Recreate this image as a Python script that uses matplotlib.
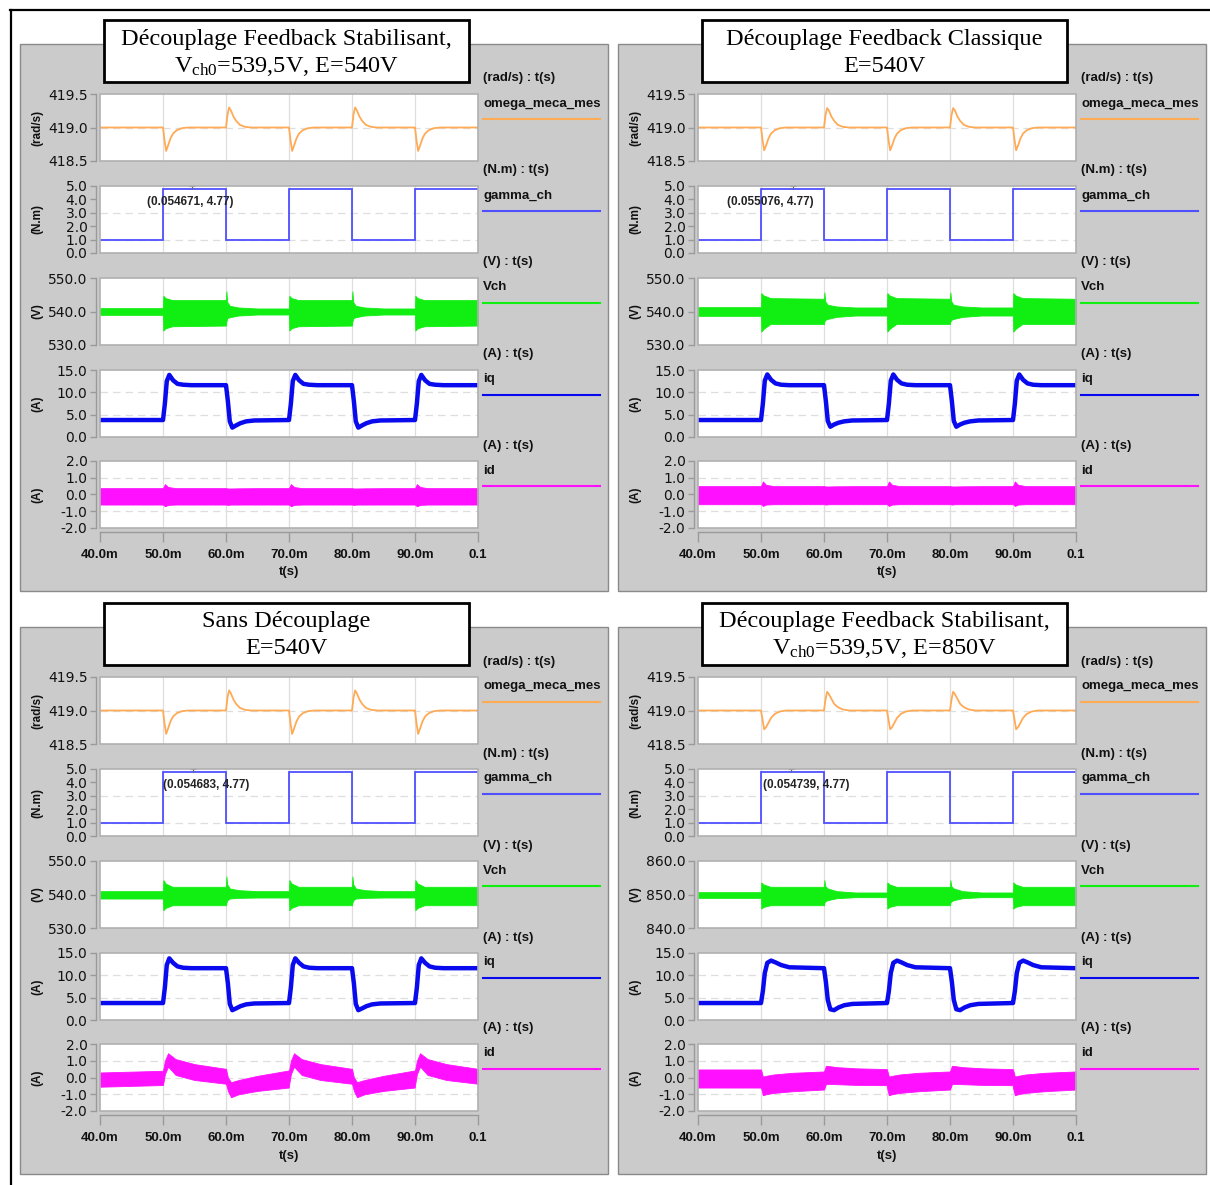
import numpy as np
import matplotlib
matplotlib.use("Agg")
import matplotlib.pyplot as plt
from matplotlib.patches import Rectangle
from matplotlib.lines import Line2D

# ---------------------------------------------------------------- data
T_START, T_END = 40.0, 100.0                 # ms
SWITCH_T = [50.0, 60.0, 70.0, 80.0, 90.0]    # ms (load steps)
X_TICKS = [40, 50, 60, 70, 80, 90, 100]
X_TICK_LABELS = ["40.0m", "50.0m", "60.0m", "70.0m", "80.0m", "90.0m", "0.1"]

TITLES_L1 = ["Découplage Feedback Stabilisant,", "Découplage Feedback Classique",
             "Sans Découplage", "Découplage Feedback Stabilisant,"]
TITLES_L2 = [r"V$_{\mathrm{ch0}}$=539,5V, E=540V", "E=540V", "E=540V",
             r"V$_{\mathrm{ch0}}$=539,5V, E=850V"]

SERIES_NAMES = ["omega_meca_mes", "gamma_ch", "Vch", "iq", "id"]
SERIES_UNITS = ["(rad/s)", "(N.m)", "(V)", "(A)", "(A)"]

# gamma_ch (load torque) : levels on each interval 40-50-60-70-80-90-100 ms
GAMMA_EDGES = [40, 50, 60, 70, 80, 90, 100]
GAMMA_LEVELS = [1.0, 4.77, 1.0, 4.77, 1.0, 4.77]
ANNOT_X = [0.054671, 0.055076, 0.054683, 0.054739]   # s
ANNOT_Y = [4.77, 4.77, 4.77, 4.77]

# omega_meca_mes : deviation around 419.0 after each step (dt in ms)
OMEGA_BASE = 419.0
OMEGA_DT = [0, 0.25, 0.5, 0.8, 1.2, 1.6, 2.2, 3.0, 4.0]
TL_OMEGA_DIP = [0, -0.20, -0.35, -0.27, -0.16, -0.09, -0.04, -0.01, 0]
TL_OMEGA_PEAK = [0, 0.20, 0.30, 0.25, 0.16, 0.10, 0.04, 0.01, 0]
TR_OMEGA_DIP = [0, -0.19, -0.34, -0.27, -0.16, -0.09, -0.04, -0.01, 0]
TR_OMEGA_PEAK = [0, 0.19, 0.29, 0.25, 0.16, 0.10, 0.04, 0.01, 0]
BL_OMEGA_DIP = [0, -0.20, -0.35, -0.27, -0.16, -0.09, -0.04, -0.01, 0]
BL_OMEGA_PEAK = [0, 0.20, 0.30, 0.25, 0.16, 0.10, 0.04, 0.01, 0]
BR_OMEGA_DIP = [0, -0.14, -0.28, -0.25, -0.18, -0.11, -0.05, -0.015, 0]
BR_OMEGA_PEAK = [0, 0.17, 0.28, 0.24, 0.17, 0.10, 0.05, 0.015, 0]

# Vch envelope (upper / lower) : before 50 ms, after load increase, after load decrease
VCH_UP_DT = [0, 0.05, 0.4, 1.5, 9.95]
VCH_DN_DT = [0, 0.06, 0.2, 0.6, 2.0, 5.0, 9.95]
TL_VCH_PRE = [541.0, 539.0]
TL_VCH_UP_U = [541.0, 544.7, 544.0, 543.4, 543.4]
TL_VCH_UP_L = [539.0, 534.3, 535.0, 535.6, 535.8]
TL_VCH_DN_U = [543.4, 546.0, 542.8, 541.7, 541.2, 540.9, 540.9]
TL_VCH_DN_L = [535.8, 537.0, 538.0, 538.3, 538.8, 539.1, 539.1]
TR_VCH_PRE = [541.3, 538.7]
TR_VCH_UP_U = [541.3, 545.5, 544.8, 544.0, 543.8]
TR_VCH_UP_L = [538.7, 534.0, 534.8, 536.3, 536.3]
TR_VCH_DN_U = [543.8, 545.7, 543.0, 542.0, 541.5, 541.2, 541.2]
TR_VCH_DN_L = [536.3, 537.0, 537.5, 537.8, 538.4, 538.8, 538.8]
BL_VCH_PRE = [541.0, 538.8]
BL_VCH_UP_U = [541.0, 544.3, 543.3, 542.3, 542.3]
BL_VCH_UP_L = [538.8, 535.3, 536.0, 536.8, 536.8]
BL_VCH_DN_U = [542.3, 545.4, 543.0, 541.8, 541.3, 541.0, 541.0]
BL_VCH_DN_L = [536.8, 537.5, 538.3, 538.8, 539.0, 539.1, 539.1]
BR_VCH_PRE = [850.7, 849.0]
BR_VCH_UP_U = [850.7, 853.6, 853.0, 852.3, 852.3]
BR_VCH_UP_L = [849.0, 845.8, 846.3, 846.8, 846.8]
BR_VCH_DN_U = [852.3, 854.3, 852.5, 851.8, 851.0, 850.6, 850.6]
BR_VCH_DN_L = [846.8, 847.5, 848.0, 848.3, 848.9, 849.2, 849.2]

# iq : transient after load increase / decrease
IQ_DT = [0, 0.3, 0.6, 1.0, 1.6, 2.3, 3.2, 4.5, 9.95]
TL_IQ_UP = [3.8, 7.5, 12.5, 13.9, 12.7, 11.9, 11.7, 11.6, 11.6]
TL_IQ_DN = [11.6, 8.0, 3.5, 2.1, 2.6, 3.1, 3.5, 3.7, 3.8]
TR_IQ_UP = [3.8, 7.5, 12.6, 14.0, 12.8, 12.0, 11.7, 11.6, 11.6]
TR_IQ_DN = [11.6, 8.0, 3.6, 2.3, 2.8, 3.2, 3.5, 3.7, 3.8]
BL_IQ_UP = [3.8, 7.3, 12.3, 13.8, 12.8, 12.0, 11.7, 11.6, 11.6]
BL_IQ_DN = [11.6, 8.2, 3.6, 2.2, 2.6, 3.1, 3.5, 3.7, 3.8]
BR_IQ_UP = [3.8, 6.5, 10.5, 12.8, 13.3, 12.9, 12.3, 11.8, 11.6]
BR_IQ_DN = [11.6, 8.5, 4.5, 2.4, 2.2, 2.8, 3.3, 3.6, 3.8]

# id envelope (upper / lower)
ID_DT = [0, 0.3, 0.8, 2.0, 5.0, 9.95]
TL_ID_PRE = [0.38, -0.60]
TL_ID_UP_U = [0.38, 0.62, 0.45, 0.38, 0.38, 0.38]
TL_ID_UP_L = [-0.60, -0.70, -0.62, -0.60, -0.60, -0.60]
TL_ID_DN_U = [0.38, 0.36, 0.36, 0.37, 0.38, 0.38]
TL_ID_DN_L = [-0.60, -0.62, -0.60, -0.60, -0.60, -0.60]
TR_ID_PRE = [0.50, -0.58]
TR_ID_UP_U = [0.50, 0.78, 0.58, 0.50, 0.50, 0.50]
TR_ID_UP_L = [-0.58, -0.68, -0.60, -0.58, -0.58, -0.58]
TR_ID_DN_U = [0.50, 0.48, 0.48, 0.49, 0.50, 0.50]
TR_ID_DN_L = [-0.58, -0.60, -0.58, -0.58, -0.58, -0.58]
BL_ID_PRE = [0.30, -0.55]
BL_ID_UP_U = [0.40, 1.00, 1.45, 1.10, 0.80, 0.52]
BL_ID_UP_L = [-0.45, 0.20, 0.65, 0.15, -0.15, -0.37]
BL_ID_DN_U = [0.52, 0.00, -0.28, -0.15, 0.10, 0.42]
BL_ID_DN_L = [-0.37, -0.80, -1.18, -1.00, -0.80, -0.60]
BR_ID_PRE = [0.48, -0.60]
BR_ID_UP_U = [0.48, 0.05, 0.10, 0.18, 0.28, 0.36]
BR_ID_UP_L = [-0.60, -1.06, -1.00, -0.92, -0.82, -0.72]
BR_ID_DN_U = [0.36, 0.70, 0.68, 0.62, 0.55, 0.50]
BR_ID_DN_L = [-0.72, -0.40, -0.38, -0.40, -0.44, -0.46]

Y_LIMS = [(418.5, 419.5), (0.0, 5.0), (530.0, 550.0), (0.0, 15.0), (-2.0, 2.0)]
Y_TICKS = [[418.5, 419.0, 419.5], [0, 1, 2, 3, 4, 5], [530, 540, 550],
           [0, 5, 10, 15], [-2, -1, 0, 1, 2]]
BR_VCH_LIM = (840.0, 860.0)
BR_VCH_TICKS = [840, 850, 860]

# ---------------------------------------------------------------- style / layout
W, H = 1210, 1185
SANS = "Liberation Sans"
SERIF = "Liberation Serif"
plt.rcParams["mathtext.fontset"] = "custom"
plt.rcParams["mathtext.rm"] = SERIF
plt.rcParams["mathtext.it"] = SERIF + ":italic"
plt.rcParams["mathtext.bf"] = SERIF + ":bold"

C_OMEGA = "#ffaa55"
C_GAMMA = "#5050ff"
C_VCH = "#11ee11"
C_IQ = "#0a0aee"
C_ID = "#ff11ff"
C_PANEL = "#cbcbcb"
C_FRAME = "#b0b0b0"
C_AXIS = "#9a9a9a"
C_GRID = "#dedede"

PANEL_OFF = [(0, 0), (598, 0), (0, 583), (598, 583)]
X0, X1 = 100, 478
TOPS = [94, 186, 278, 370, 461]
SUB_H = 67
ANNOT_TEXT_X = [47.5, 44.6, 50.0, 50.3]   # ms, where the coordinate label starts
ANNOT_TEXT_Y = 3.8

fig = plt.figure(figsize=(W / 100, H / 100), dpi=100)
fig.patch.set_facecolor("white")


def fx(x):
    return x / W


def fy(y):
    return 1 - y / H


def seq(pre, up_dt, up_vals, dn_dt, dn_vals):
    t = [T_START]
    v = [pre]
    for k, s in enumerate(SWITCH_T):
        dt, vals = (up_dt, up_vals) if k % 2 == 0 else (dn_dt, dn_vals)
        t += [s + d for d in dt]
        v += list(vals)
    t.append(T_END)
    v.append(v[-1])
    return np.array(t), np.array(v)


def omega_series(dip, peak):
    t = [T_START]
    v = [OMEGA_BASE]
    for k, s in enumerate(SWITCH_T):
        dev = dip if k % 2 == 0 else peak
        t += [s + d for d in OMEGA_DT]
        v += [OMEGA_BASE + d for d in dev]
    t.append(T_END)
    v.append(OMEGA_BASE)
    return np.array(t), np.array(v)


PANELS = [
    dict(omega=(TL_OMEGA_DIP, TL_OMEGA_PEAK),
         vch=(TL_VCH_PRE, TL_VCH_UP_U, TL_VCH_UP_L, TL_VCH_DN_U, TL_VCH_DN_L),
         iq=(TL_IQ_UP, TL_IQ_DN),
         idd=(TL_ID_PRE, TL_ID_UP_U, TL_ID_UP_L, TL_ID_DN_U, TL_ID_DN_L)),
    dict(omega=(TR_OMEGA_DIP, TR_OMEGA_PEAK),
         vch=(TR_VCH_PRE, TR_VCH_UP_U, TR_VCH_UP_L, TR_VCH_DN_U, TR_VCH_DN_L),
         iq=(TR_IQ_UP, TR_IQ_DN),
         idd=(TR_ID_PRE, TR_ID_UP_U, TR_ID_UP_L, TR_ID_DN_U, TR_ID_DN_L)),
    dict(omega=(BL_OMEGA_DIP, BL_OMEGA_PEAK),
         vch=(BL_VCH_PRE, BL_VCH_UP_U, BL_VCH_UP_L, BL_VCH_DN_U, BL_VCH_DN_L),
         iq=(BL_IQ_UP, BL_IQ_DN),
         idd=(BL_ID_PRE, BL_ID_UP_U, BL_ID_UP_L, BL_ID_DN_U, BL_ID_DN_L)),
    dict(omega=(BR_OMEGA_DIP, BR_OMEGA_PEAK),
         vch=(BR_VCH_PRE, BR_VCH_UP_U, BR_VCH_UP_L, BR_VCH_DN_U, BR_VCH_DN_L),
         iq=(BR_IQ_UP, BR_IQ_DN),
         idd=(BR_ID_PRE, BR_ID_UP_U, BR_ID_UP_L, BR_ID_DN_U, BR_ID_DN_L)),
]
COLORS = [C_OMEGA, C_GAMMA, C_VCH, C_IQ, C_ID]
HGRID = [[419.0], [1.0, 3.0], [540.0], [5.0, 10.0], [-1.0, 0.0, 1.0]]

# outer black frame lines
fig.add_artist(Line2D([fx(10), fx(1210)], [fy(10), fy(10)], color="black", lw=1.6,
                      transform=fig.transFigure))
fig.add_artist(Line2D([fx(10.5), fx(10.5)], [fy(10), fy(1185)], color="black", lw=1.6,
                      transform=fig.transFigure))

for p, (dx, dy) in enumerate(PANEL_OFF):
    data = PANELS[p]
    # grey background panel
    fig.add_artist(Rectangle((fx(20 + dx), fy(591 + dy)), 588 / W, 547 / H,
                             transform=fig.transFigure, facecolor=C_PANEL,
                             edgecolor="#8a8a8a", lw=1.0, zorder=-5))
    # title box
    fig.add_artist(Rectangle((fx(104 + dx), fy(82 + dy)), 365 / W, 62 / H,
                             transform=fig.transFigure, facecolor="white",
                             edgecolor="black", lw=2.0, zorder=10))
    fig.text(fx(286.5 + dx), fy(39 + dy), TITLES_L1[p], family=SERIF, fontsize=17.5,
             ha="center", va="center", zorder=11)
    fig.text(fx(286.5 + dx), fy(66 + dy), TITLES_L2[p], family=SERIF, fontsize=17.5,
             ha="center", va="center", zorder=11)

    for i in range(5):
        top = TOPS[i] + dy
        ax = fig.add_axes([fx(X0 + dx), fy(top + SUB_H), (X1 - X0) / W, SUB_H / H])
        ax.set_facecolor("white")
        ax.set_xlim(T_START, T_END)
        lim = Y_LIMS[i]
        ticks = Y_TICKS[i]
        if i == 2 and p == 3:
            lim, ticks = BR_VCH_LIM, BR_VCH_TICKS
        ax.set_ylim(*lim)
        ax.set_yticks(ticks)
        ax.set_yticklabels([f"{v:.1f}" for v in ticks], fontfamily=SANS,
                           fontweight="bold", fontsize=9.5)
        ax.set_xticks([])
        for s in ["top", "right", "bottom"]:
            ax.spines[s].set_visible(False)
        ax.spines["left"].set_position(("outward", 3))
        ax.spines["left"].set_color(C_AXIS)
        ax.spines["left"].set_linewidth(1.0)
        ax.tick_params(axis="y", direction="out", length=4, width=1.0, color=C_AXIS,
                       pad=2, labelcolor="#111111")
        ax.add_patch(Rectangle((0, 0), 1, 1, transform=ax.transAxes, fill=False,
                               edgecolor=C_FRAME, lw=1.2, clip_on=False, zorder=6))
        for s in SWITCH_T:
            ax.axvline(s, color=C_GRID, lw=0.9, zorder=0)
        hg = HGRID[i] if not (i == 2 and p == 3) else [850.0]
        for yv in hg:
            ax.axhline(yv, color=C_GRID, lw=0.9, ls=(0, (6, 4)), zorder=0)

        if i == 0:
            t, v = omega_series(*data["omega"])
            ax.plot(t, v, color=C_OMEGA, lw=1.3, zorder=3)
        elif i == 1:
            ax.stairs(GAMMA_LEVELS, GAMMA_EDGES, baseline=None, color=C_GAMMA, lw=1.3,
                      zorder=3)
            ax.plot(ANNOT_X[p] * 1000, ANNOT_Y[p] + 0.2, marker="+", ms=4, mew=0.8,
                    color="#666666", zorder=4)
            ax.text(ANNOT_TEXT_X[p], ANNOT_TEXT_Y,
                    f"({ANNOT_X[p]:.6f}, {ANNOT_Y[p]:.2f})", fontfamily=SANS,
                    fontweight="bold", fontsize=8.5, ha="left", va="center",
                    color="#222222", zorder=5)
        elif i == 2:
            pre, uu, ul, du, dl = data["vch"]
            t, u = seq(pre[0], VCH_UP_DT, uu, VCH_DN_DT, du)
            _, l = seq(pre[1], VCH_UP_DT, ul, VCH_DN_DT, dl)
            ax.fill_between(t, l, u, color=C_VCH, lw=0.6, zorder=3)
        elif i == 3:
            up, dn = data["iq"]
            t, v = seq(up[0], IQ_DT, up, IQ_DT, dn)
            ax.plot(t, v, color=C_IQ, lw=3.2, zorder=3, solid_joinstyle="round")
        else:
            pre, uu, ul, du, dl = data["idd"]
            t, u = seq(pre[0], ID_DT, uu, ID_DT, du)
            _, l = seq(pre[1], ID_DT, ul, ID_DT, dl)
            ax.fill_between(t, l, u, color=C_ID, lw=0.6, zorder=3)

        # right-hand legend block
        fig.text(fx(483 + dx), fy(top - 15.5), f"{SERIES_UNITS[i]} : t(s)", family=SANS,
                 fontweight="bold", fontsize=9.5, ha="left", va="center", color="#111111")
        fig.text(fx(483 + dx), fy(top + 9.5), SERIES_NAMES[i], family=SANS,
                 fontweight="bold", fontsize=9.5, ha="left", va="center", color="#111111")
        fig.add_artist(Line2D([fx(483 + dx), fx(600 + dx)], [fy(top + 25), fy(top + 25)],
                              color=COLORS[i], lw=1.5, transform=fig.transFigure))
        # y unit label
        fig.text(fx(37 + dx), fy(top + SUB_H / 2), SERIES_UNITS[i], family=SANS,
                 fontweight="bold", fontsize=8.5, rotation=90, ha="center", va="center",
                 color="#111111")

    # x axis (separate ruler under the stack)
    axx = fig.add_axes([fx(X0 + dx), fy(532 + dy), (X1 - X0) / W, 0.0005])
    axx.patch.set_visible(False)
    axx.set_xlim(T_START, T_END)
    axx.set_yticks([])
    for s in ["top", "right", "left"]:
        axx.spines[s].set_visible(False)
    axx.spines["bottom"].set_color(C_AXIS)
    axx.spines["bottom"].set_linewidth(1.0)
    axx.set_xticks(X_TICKS)
    axx.set_xticklabels(X_TICK_LABELS, fontfamily=SANS, fontweight="bold", fontsize=9.5)
    axx.tick_params(axis="x", direction="out", length=7, width=1.0, color=C_AXIS, pad=5,
                    labelcolor="#111111")
    fig.text(fx(289 + dx), fy(572.5 + dy), "t(s)", family=SANS, fontweight="bold",
             fontsize=9.5, ha="center", va="center", color="#111111")

fig.savefig("out.png", dpi=100, facecolor="white")
